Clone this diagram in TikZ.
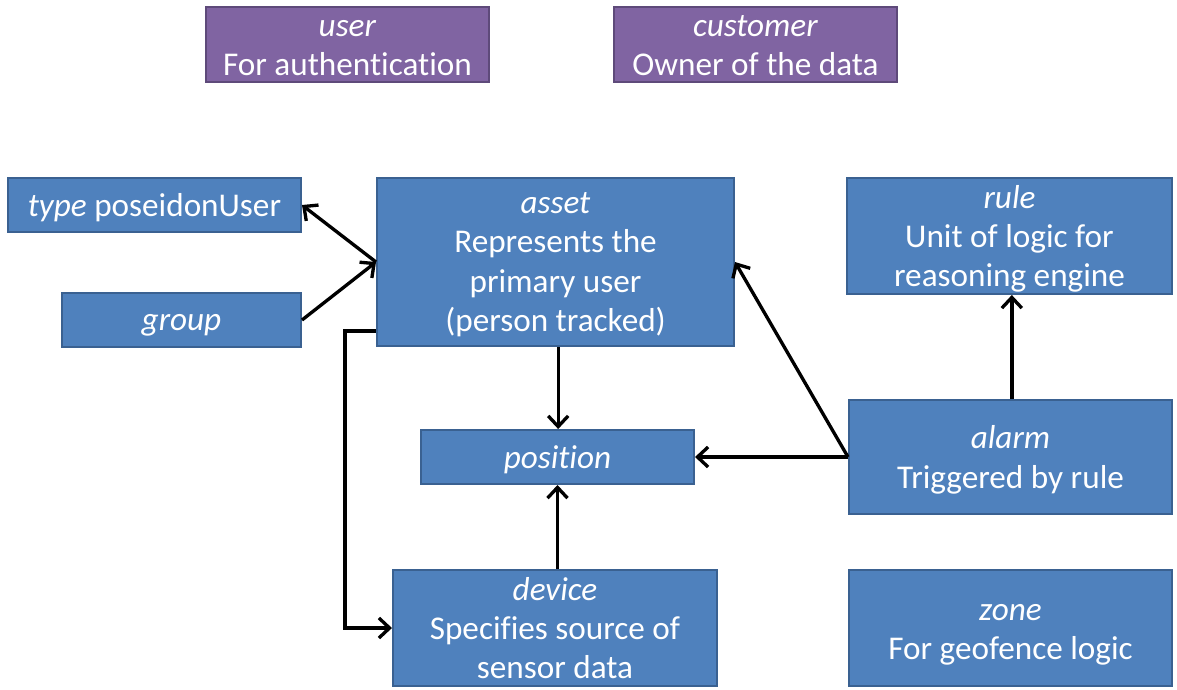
\documentclass[tikz,border=0pt]{standalone}
\usepackage{fontspec}
\setmainfont{Carlito}[Ligatures=NoCommon]
\usetikzlibrary{arrows.meta,calc}
\definecolor{bfill}{HTML}{4F81BD}
\definecolor{bdraw}{HTML}{3A6191}
\definecolor{pfill}{HTML}{8064A2}
\definecolor{pdraw}{HTML}{5E4A7A}
\tikzset{
  boxtext/.style={text=white, align=center, inner sep=0pt, text depth=0pt,
    font=\fontsize{24.9}{29.5}\selectfont, execute at begin node=\vphantom{Ag}},
  box/.style={boxtext, draw=bdraw, fill=bfill, line width=1.5pt},
  pbox/.style={box, draw=pdraw, fill=pfill},
  arr/.style={draw=black, line width=2.5pt, -{Straight Barb[length=8pt,width=15pt]}},
}
\begin{document}
\begin{tikzpicture}[x=0.75pt,y=-0.75pt]
\useasboundingbox (0,0) rectangle (1177,689);
\node[pbox, minimum width=283*0.75pt, minimum height=75*0.75pt] (user) at (347.5,44.5) {};
\node[boxtext] (user-text) at ([yshift=-2.5pt]user.center) {\textit{user}\\For authentication};
\node[pbox, minimum width=283*0.75pt, minimum height=75*0.75pt] (customer) at (755.5,44.5) {};
\node[boxtext] (customer-text) at ([yshift=-0.8pt]customer.center) {\textit{customer}\\Owner of the data};
\node[box, minimum width=293*0.75pt, minimum height=54*0.75pt] (type) at (154.5,205) {\textit{type} poseidonUser};
\node[box, minimum width=239*0.75pt, minimum height=54*0.75pt] (group) at (181.5,320) {\textit{group}};
\node[box, minimum width=357*0.75pt, minimum height=168*0.75pt] (asset) at (555.5,262) {\textit{asset}\\Represents the\\primary user\\(person tracked)};
\node[box, minimum width=325*0.75pt, minimum height=116*0.75pt] (rule) at (1009.5,236) {\textit{rule}\\Unit of logic for\\reasoning engine};
\node[box, minimum width=273*0.75pt, minimum height=54*0.75pt] (position) at (557.5,457) {\textit{position}};
\node[box, minimum width=323*0.75pt, minimum height=114*0.75pt] (alarm) at (1010.5,457) {\textit{alarm}\\Triggered by rule};
\node[box, minimum width=324*0.75pt, minimum height=116*0.75pt] (device) at (555,628) {\textit{device}\\Specifies source of\\sensor data};
\node[box, minimum width=323*0.75pt, minimum height=116*0.75pt] (zone) at (1010.5,628) {};
\node[boxtext] (zone-text) at ([yshift=-3pt]zone.center) {\textit{zone}\\For geofence logic};

\draw[arr] (asset.west) -- (type.east);
\draw[arr] (group.east) -- (asset.west);
\draw[arr] ([xshift=2pt]asset.south) -- ([xshift=2pt]asset.south |- position.north);
\draw[arr] (position.south |- device.north) -- (position.south);
\draw[arr] (alarm.west) -- (position.east);
\draw[arr] (alarm.west) -- (asset.east);
\draw[arr] ([xshift=1pt]alarm.north) -- ([xshift=1pt]alarm.north |- rule.south);
\coordinate (bend) at ([yshift=12pt]asset.south west);
\draw[arr] (bend) -- ++(-31,0) |- (device.west);
\end{tikzpicture}
\end{document}
